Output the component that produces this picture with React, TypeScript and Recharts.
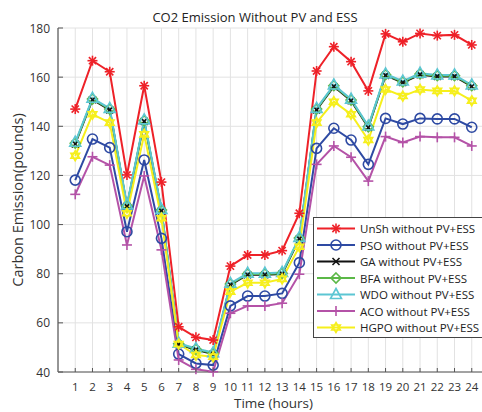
import React from 'react'
import { LineChart, Line, XAxis, YAxis, CartesianGrid } from 'recharts'

const hours = [1, 2, 3, 4, 5, 6, 7, 8, 9, 10, 11, 12, 13, 14, 15, 16, 17, 18, 19, 20, 21, 22, 23, 24]
const yTicks = [40, 60, 80, 100, 120, 140, 160, 180]

const unsh = [147, 166.7, 162.2, 120.2, 156.5, 117.3, 58.4, 54.1, 53, 83.1, 87.6, 87.6, 89.4, 104.6, 162.5, 172.4, 166.3, 154.4, 177.6, 174.4, 177.8, 176.9, 177.2, 173.1]
const pso = [118.1, 134.8, 131.3, 97.1, 126.3, 94.4, 47.3, 43.5, 42.8, 66.9, 70.9, 70.9, 72, 84.5, 131, 139.2, 134.4, 124.5, 143.2, 140.9, 143.2, 143, 143, 139.6]
const ga = [132.8, 150.8, 146.7, 107.4, 142.0, 105.6, 51.2, 49.0, 47.3, 75.5, 79.6, 79.6, 79.9, 94.2, 146.7, 156.2, 150.4, 139.5, 160.7, 157.8, 161.0, 160.3, 160.3, 156.2]
const bfa = [133.1, 151.1, 147.0, 107.7, 142.3, 105.9, 51.5, 49.3, 47.6, 75.8, 79.9, 79.9, 80.2, 94.5, 147.0, 156.5, 150.7, 139.8, 161.0, 158.1, 161.3, 160.6, 160.6, 156.5]
const wdo = [133.5, 151.4, 147.3, 108.0, 142.6, 106.2, 51.7, 49.6, 47.9, 76.1, 80.2, 80.2, 80.5, 94.8, 147.3, 156.8, 151.0, 140.1, 161.3, 158.4, 161.6, 160.9, 160.9, 156.8]
const aco = [112.3, 127.6, 124.2, 91.7, 119.8, 89.7, 44.9, 41.1, 40.1, 63.9, 66.9, 66.9, 68, 79.8, 124.5, 132, 127.4, 117.7, 135.8, 133.4, 135.8, 135.5, 135.5, 132]
const hgpo = [128, 144.9, 141.5, 104.6, 136.7, 102.6, 51.4, 46.9, 46.2, 72.7, 76.3, 76.3, 77.9, 91, 141.5, 150, 144.9, 134.4, 155, 152.3, 155, 154.4, 154.4, 150.4]

type Kind = 'star' | 'circle' | 'x' | 'diamond' | 'triangle' | 'plus' | 'hexagram'

const series: { key: string; name: string; color: string; kind: Kind }[] = [
  { key: 'unsh', name: 'UnSh without PV+ESS', color: '#ee2128', kind: 'star' },
  { key: 'pso', name: 'PSO without PV+ESS', color: '#2e4aa3', kind: 'circle' },
  { key: 'ga', name: 'GA without PV+ESS', color: '#111111', kind: 'x' },
  { key: 'bfa', name: 'BFA without PV+ESS', color: '#5bb847', kind: 'diamond' },
  { key: 'wdo', name: 'WDO without PV+ESS', color: '#5cc6d3', kind: 'triangle' },
  { key: 'aco', name: 'ACO without PV+ESS', color: '#b452a7', kind: 'plus' },
  { key: 'hgpo', name: 'HGPO without PV+ESS', color: '#f6ef1c', kind: 'hexagram' },
]

const data = hours.map((h, i) => ({
  hour: h,
  unsh: unsh[i],
  pso: pso[i],
  ga: ga[i],
  bfa: bfa[i],
  wdo: wdo[i],
  aco: aco[i],
  hgpo: hgpo[i],
}))

const FONT = "'Open Sans', sans-serif"
const AXIS = '#555'

function Marker({ cx, cy, color, kind }: { cx: number; cy: number; color: string; kind: Kind }) {
  const s = 5
  const common = { stroke: color, strokeWidth: 1.6, fill: 'none' }
  if (kind === 'star') {
    const d = s * 0.72
    return (
      <g {...common}>
        <line x1={cx - s} y1={cy} x2={cx + s} y2={cy} />
        <line x1={cx} y1={cy - s} x2={cx} y2={cy + s} />
        <line x1={cx - d} y1={cy - d} x2={cx + d} y2={cy + d} />
        <line x1={cx - d} y1={cy + d} x2={cx + d} y2={cy - d} />
      </g>
    )
  }
  if (kind === 'circle') return <circle cx={cx} cy={cy} r={s} {...common} />
  if (kind === 'x') {
    const d = 3.5
    return (
      <g {...common}>
        <line x1={cx - d} y1={cy - d} x2={cx + d} y2={cy + d} />
        <line x1={cx - d} y1={cy + d} x2={cx + d} y2={cy - d} />
      </g>
    )
  }
  if (kind === 'diamond')
    return <polygon points={`${cx},${cy - s} ${cx + s},${cy} ${cx},${cy + s} ${cx - s},${cy}`} {...common} />
  if (kind === 'triangle')
    return <polygon points={`${cx},${cy - s - 1} ${cx + s + 0.5},${cy + s - 1} ${cx - s - 0.5},${cy + s - 1}`} {...common} />
  if (kind === 'plus')
    return (
      <g {...common}>
        <line x1={cx - s} y1={cy} x2={cx + s} y2={cy} />
        <line x1={cx} y1={cy - s} x2={cx} y2={cy + s} />
      </g>
    )
  const r = s
  const t1 = [0, 1, 2].map(k => {
    const a = -Math.PI / 2 + (k * 2 * Math.PI) / 3
    return `${cx + r * Math.cos(a)},${cy + r * Math.sin(a)}`
  })
  const t2 = [0, 1, 2].map(k => {
    const a = Math.PI / 2 + (k * 2 * Math.PI) / 3
    return `${cx + r * Math.cos(a)},${cy + r * Math.sin(a)}`
  })
  return (
    <g {...common}>
      <polygon points={t1.join(' ')} />
      <polygon points={t2.join(' ')} />
    </g>
  )
}

function BottomTick(props: any) {
  const { x, y, payload } = props
  return (
    <g>
      <line x1={x} x2={x} y1={y - 14} y2={y - 18} stroke={AXIS} strokeWidth={1} />
      <text x={x} y={y} textAnchor="middle" dominantBaseline="central" fontSize={11.5} fontFamily={FONT} fill="#333">
        {payload.value}
      </text>
    </g>
  )
}

function TopTick(props: any) {
  const { x, y } = props
  return <line x1={x} x2={x} y1={y} y2={y + 4} stroke={AXIS} strokeWidth={1} />
}

function LeftTick(props: any) {
  const { x, y, payload } = props
  return (
    <g>
      <line x1={x + 8} x2={x + 13} y1={y} y2={y} stroke={AXIS} strokeWidth={1} />
      <text x={x} y={y} textAnchor="end" dominantBaseline="central" fontSize={12} fontFamily={FONT} fill="#333">
        {payload.value}
      </text>
    </g>
  )
}

function LegendBox() {
  return (
    <svg width={172} height={121} style={{ display: 'block' }}>
      <rect x={0.5} y={0.5} width={171} height={120} fill="#fff" stroke="#444" strokeWidth={1} />
      {series.map((s, i) => {
        const cy = 11.5 + i * 16.5
        return (
          <g key={s.key}>
            <line x1={4} x2={42} y1={cy} y2={cy} stroke={s.color} strokeWidth={2} />
            <Marker cx={23} cy={cy} color={s.color} kind={s.kind} />
            <text x={47} y={cy} dominantBaseline="central" fontSize={11.5} fontFamily={FONT} fill="#222">
              {s.name}
            </text>
          </g>
        )
      })}
    </svg>
  )
}

export default function App() {
  return (
    <div style={{ position: 'absolute', left: 0, top: 0, width: 482, height: 412, overflow: 'hidden', background: '#fff' }}>
      <div
        style={{
          position: 'absolute',
          left: 0,
          width: 510,
          top: 8,
          textAlign: 'center',
          fontFamily: FONT,
          fontSize: 13,
          color: '#222',
        }}
      >
        CO2 Emission Without PV and ESS
      </div>
      <LineChart
        width={500}
        height={412}
        data={data}
        margin={{ top: 28, right: 11, left: 0, bottom: 0 }}
      >
        <CartesianGrid stroke="#e2e2e2" strokeWidth={1} />
        <XAxis
          dataKey="hour"
          type="number"
          domain={[0, 25]}
          ticks={hours}
          interval={0}
          height={40}
          tickSize={0}
          tickMargin={14}
          tickLine={false}
          tick={<BottomTick />}
          stroke={AXIS}
          label={{ value: 'Time (hours)', position: 'insideBottom', offset: 4, fontSize: 13.5, fontFamily: FONT, fill: '#333' }}
        />
        <XAxis
          xAxisId="top"
          orientation="top"
          dataKey="hour"
          type="number"
          domain={[0, 25]}
          ticks={hours}
          interval={0}
          height={0}
          tickSize={0}
          tickMargin={0}
          tickLine={false}
          tick={<TopTick />}
          stroke={AXIS}
        />
        <YAxis
          type="number"
          domain={[40, 180]}
          ticks={yTicks}
          interval={0}
          width={58}
          tickSize={0}
          tickMargin={8}
          tickLine={false}
          tick={<LeftTick />}
          stroke="#777"
          strokeWidth={1.5}
          label={{
            value: 'Carbon Emission(pounds)',
            angle: -90,
            position: 'insideLeft',
            offset: 18,
            style: { textAnchor: 'middle' },
            fontSize: 14.5,
            fontFamily: FONT,
            fill: '#333',
          }}
        />
        {series.map(s => (
          <Line
            key={s.key}
            dataKey={s.key}
            name={s.name}
            stroke={s.color}
            strokeWidth={2}
            isAnimationActive={false}
            dot={(p: any) => <Marker key={`${s.key}-${p.index}`} cx={p.cx} cy={p.cy} color={s.color} kind={s.kind} />}
            activeDot={false}
          />
        ))}
      </LineChart>
      <div style={{ position: 'absolute', left: 313, top: 217 }}>
        <LegendBox />
      </div>
    </div>
  )
}
